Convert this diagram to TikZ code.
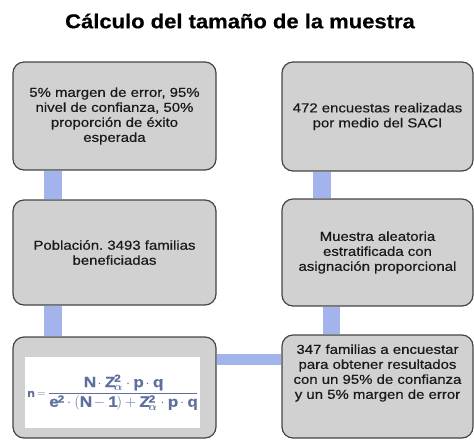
\documentclass[tikz,border=0pt]{standalone}
\usepackage{amsmath}
\usepackage{fontspec}
\setmainfont{Liberation Sans}[FakeStretch=1.15, FakeBold=0.5]
\newfontfamily\titlefont{Liberation Sans}[FakeStretch=1.1, FakeBold=0.5]
\usetikzlibrary{positioning}
\definecolor{boxgray}{HTML}{D1D1D1}
\definecolor{boxline}{HTML}{454545}
\definecolor{linkblue}{HTML}{A3B3EC}
\definecolor{formblue}{HTML}{5F709F}
\definecolor{inkgray}{HTML}{1A1A1A}
\frenchspacing

\newcommand{\sizeformula}{%
  {\fontsize{11}{12}\selectfont$\mathbf{n=}$}\,%
  $\dfrac{\mathbf{N\cdot Z^2_{\boldsymbol\alpha}\cdot p\cdot q}}%
  {\mathbf{e^2\cdot(N-1)+Z^2_{\boldsymbol\alpha}\cdot p\cdot q}}$}

\begin{document}
\begin{tikzpicture}[x=1pt,y=-1pt,
  box/.style={draw=boxline, fill=boxgray, rounded corners=11pt, line width=1.2pt,
    align=center, inner sep=0pt, text=inkgray, font=\fontsize{13}{15}\selectfont},
  link/.style={fill=linkblue, draw=none}]
\useasboundingbox (0,0) rectangle (474,440);

% title
\node (title) at (240,21) {\titlefont\bfseries\fontsize{20}{22}\selectfont C\'alculo del tama\~no de la muestra};

% left column
\node[box, minimum width=203, minimum height=108] (l1) at (114.5,116)
  {5\% margen de error, 95\%\\nivel de confianza, 50\%\\proporci\'on de \'exito\\esperada};
\node[box, minimum width=203, minimum height=105] (l2) at (114.5,252.5)
  {Poblaci\'on. 3493 familias\\beneficiadas};
\node[box, minimum width=203, minimum height=101] (l3) at (114.5,387.5) {};
\node[fill=white, minimum width=175, minimum height=71, inner sep=0pt,
  text=formblue, font=\fontsize{15}{17}\selectfont] (form) at (112.5,392.5) {\sizeformula};

% right column
\node[box, minimum width=191, minimum height=109] (r1) at (377.5,116.5)
  {472 encuestas realizadas\\por medio del SACI};
\node[box, minimum width=191, minimum height=107] (r2) at (377.5,252.5)
  {Muestra aleatoria\\estratificada con\\asignaci\'on proporcional};
\node[box, minimum width=191, minimum height=103] (r3) at (377.5,386.5) {};
\node[align=center, inner sep=0pt, text=inkgray, font=\fontsize{13}{15}\selectfont] (r3t) at (377.5,373)
  {347 familias a encuestar\\para obtener resultados\\con un 95\% de confianza\\y un 5\% margen de error};

% connectors
\fill[link] ([xshift=32pt]l1.south west) rectangle ([xshift=50pt]l2.north west);
\fill[link] ([xshift=32pt]l2.south west) rectangle ([xshift=50pt]l3.north west);
\fill[link] ([yshift=-18pt]l3.north east) rectangle ([yshift=-31pt]r3.north west);
\fill[link] ([xshift=32pt]r1.south west) rectangle ([xshift=50pt]r2.north west);
\fill[link] ([xshift=42pt]r2.south west) rectangle ([xshift=59pt]r3.north west);

\end{tikzpicture}
\end{document}
